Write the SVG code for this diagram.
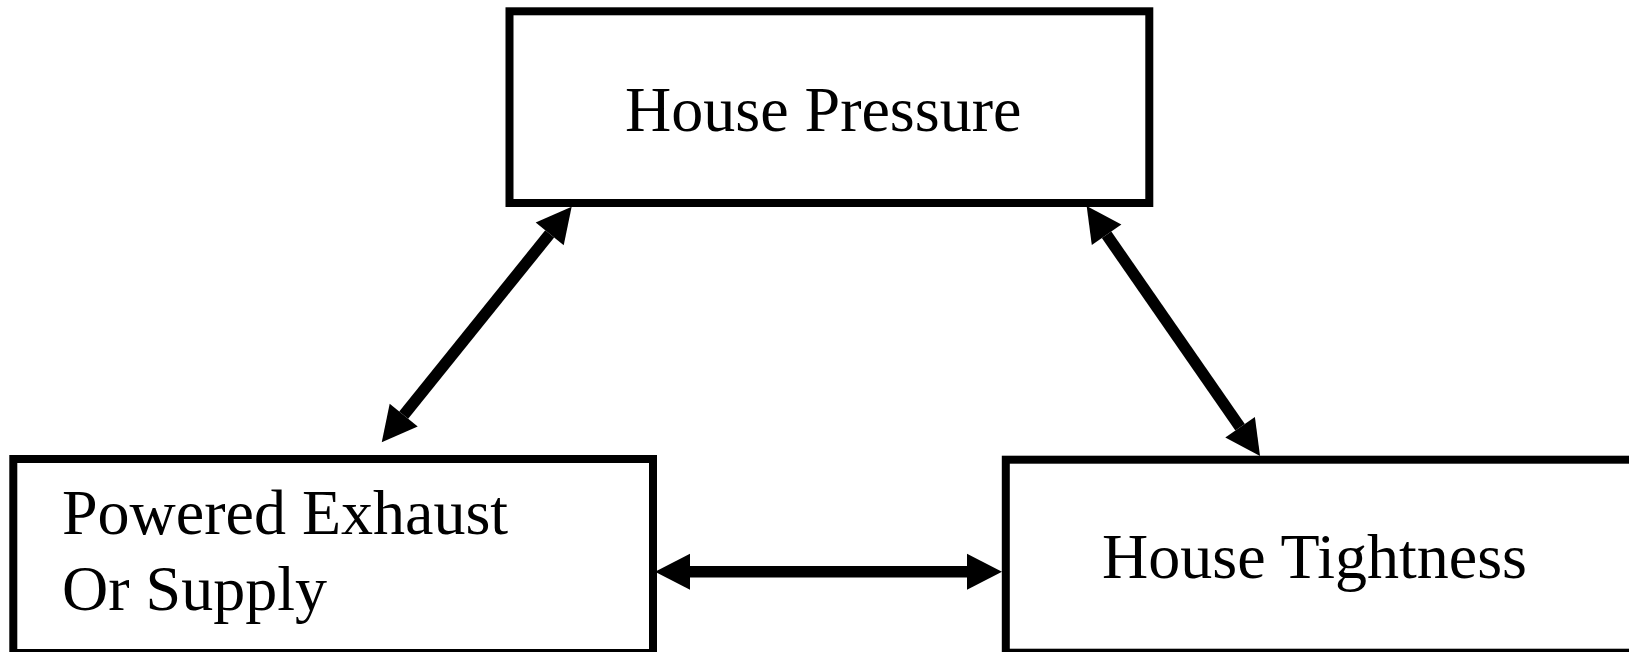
<svg xmlns="http://www.w3.org/2000/svg" width="1629" height="652" viewBox="0 0 1629 652">
<style>
.box{fill:#fff;stroke:#000;stroke-width:8}
.lbl{font-family:"Liberation Serif","Times New Roman",serif;font-size:64px;fill:#000}
.conn{stroke:#000;stroke-width:11.5;fill:none;marker-start:url(#ah);marker-end:url(#ah)}
</style>
<defs>
<marker id="ah" markerUnits="userSpaceOnUse" viewBox="0 -18 35 36" markerWidth="35" markerHeight="36" refX="0" refY="0" orient="auto-start-reverse" overflow="visible">
<path d="M0,-18 L35,0 L0,18 z" fill="#000"/>
</marker>
</defs>
<rect width="1629" height="652" fill="#fff"/>
<g id="house-pressure">
<rect class="box" x="509.5" y="11.3" width="639.8" height="191.7"/>
<text class="lbl" x="625" y="131">House Pressure</text>
</g>
<g id="powered-exhaust">
<rect class="box" x="13.3" y="459" width="639.7" height="194"/>
<text class="lbl" x="62" y="534">Powered Exhaust</text>
<text class="lbl" x="62" y="610">Or Supply</text>
</g>
<g id="house-tightness">
<rect class="box" x="1005.8" y="459.7" width="640" height="193"/>
<text class="lbl" x="1102" y="578">House Tightness</text>
</g>
<g id="connectors">
<line class="conn" x1="549.7" y1="233.9" x2="403.7" y2="415.1"/>
<line class="conn" x1="1106.6" y1="234.8" x2="1240.1" y2="427.2"/>
<line class="conn" x1="690" y1="571.7" x2="967" y2="571.7"/>
</g>
</svg>
